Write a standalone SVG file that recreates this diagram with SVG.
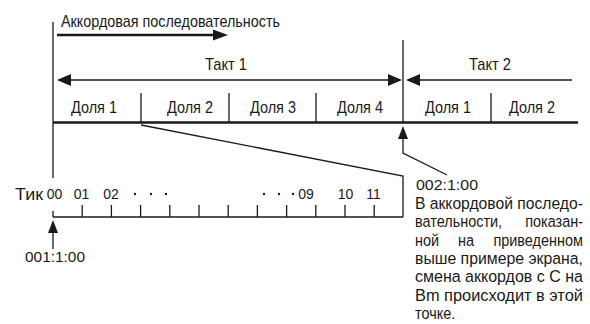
<svg xmlns="http://www.w3.org/2000/svg" width="590" height="324" viewBox="0 0 590 324">
<style>
.t{font-family:"Liberation Sans",Arial,sans-serif;font-size:17px;fill:#1a1a1a}
.n{font-family:"Liberation Sans",Arial,sans-serif;font-size:14px;fill:#1a1a1a}
.m{text-anchor:middle}
.e{text-anchor:end}
.l{stroke:#1a1a1a;stroke-width:1.3;fill:none}
.b{stroke:#1a1a1a;stroke-width:2.5;fill:none}
.h{fill:#1a1a1a;stroke:none}
</style>
<rect width="590" height="324" fill="#fff"/>
<g id="chord-sequence">
<text class="t" x="61" y="27" textLength="219" lengthAdjust="spacingAndGlyphs">Аккордовая последовательность</text>
</g>
<g id="measure1">
<text class="t m" x="226" y="70" textLength="42" lengthAdjust="spacingAndGlyphs">Такт 1</text>
</g>
<g id="measure2">
<text class="t m" x="490" y="70" textLength="42" lengthAdjust="spacingAndGlyphs">Такт 2</text>
</g>
<g id="beats">
<line class="l" x1="141" y1="93" x2="141" y2="122"/>
<line class="l" x1="229" y1="93" x2="229" y2="122"/>
<line class="l" x1="316" y1="93" x2="316" y2="122"/>
<line class="l" x1="491" y1="93" x2="491" y2="122"/>
<text class="t m" x="94" y="113" textLength="46" lengthAdjust="spacingAndGlyphs">Доля 1</text>
<text class="t m" x="190" y="113" textLength="46" lengthAdjust="spacingAndGlyphs">Доля 2</text>
<text class="t m" x="273" y="113" textLength="46" lengthAdjust="spacingAndGlyphs">Доля 3</text>
<text class="t m" x="360" y="113" textLength="46" lengthAdjust="spacingAndGlyphs">Доля 4</text>
<text class="t m" x="448" y="113" textLength="46" lengthAdjust="spacingAndGlyphs">Доля 1</text>
<text class="t m" x="532" y="113" textLength="46" lengthAdjust="spacingAndGlyphs">Доля 2</text>
<line class="b" x1="53" y1="122.5" x2="578" y2="122.5"/>
</g>
<g id="ticks">
<text class="t" x="15" y="200" textLength="28" lengthAdjust="spacingAndGlyphs">Тик</text>
<text class="n m" x="54.5" y="199">00</text>
<text class="n m" x="81.5" y="199">01</text>
<text class="n m" x="111" y="199">02</text>
<circle class="h" cx="135" cy="194" r="1.2"/>
<circle class="h" cx="151" cy="194" r="1.2"/>
<circle class="h" cx="166" cy="194" r="1.2"/>
<circle class="h" cx="264" cy="194" r="1.2"/>
<circle class="h" cx="279" cy="194" r="1.2"/>
<circle class="h" cx="293" cy="194" r="1.2"/>
<text class="n m" x="306" y="199">09</text>
<text class="n m" x="345.5" y="199">10</text>
<text class="n m" x="373.5" y="199">11</text>
<line class="l" x1="53" y1="217" x2="403" y2="217"/>
<path class="l" d="M53 211V217M82.2 205V217M111.4 205V217M140.6 205V217M169.8 205V217M199 205V217M228.2 205V217M257.4 205V217M286.6 205V217M315.8 205V217M345 205V217M374.2 205V217"/>
</g>
<g id="label-start">
<text class="n" x="25" y="262" textLength="60" lengthAdjust="spacingAndGlyphs">001:1:00</text>
</g>
<g id="label-change">
<text class="n" x="416" y="190" textLength="62" lengthAdjust="spacingAndGlyphs">002:1:00</text>
<g transform="matrix(0.85 0 0 1 62.25 0)">
<text class="t" x="415" y="209" textLength="197.6" lengthAdjust="spacingAndGlyphs">В аккордовой последо-</text>
<text class="t" x="415" y="227">вательности,</text>
<text class="t e" x="612.6" y="227">показан-</text>
<text class="t" x="415" y="246">ной</text>
<text class="t m" x="475" y="246">на</text>
<text class="t e" x="612.6" y="246">приведенном</text>
<text class="t" x="415" y="264" textLength="197.6" lengthAdjust="spacingAndGlyphs">выше примере экрана,</text>
<text class="t" x="415" y="282" textLength="197.6" lengthAdjust="spacingAndGlyphs">смена аккордов с С на</text>
<text class="t" x="415" y="301" textLength="197.6" lengthAdjust="spacingAndGlyphs">Bm происходит в этой</text>
<text class="t" x="415" y="319">точке.</text>
</g>
</g>
<g id="connectors">
<line class="l" x1="53" y1="22" x2="53" y2="178"/>
<line class="l" x1="403" y1="40" x2="403" y2="122"/>
<line class="b" x1="57" y1="35" x2="214" y2="35"/>
<polygon class="h" points="213,29.5 228,35 213,40.5"/>
<line class="l" x1="70" y1="80" x2="389" y2="80"/>
<polygon class="h" points="57,80 71,74 71,86"/>
<polygon class="h" points="402,80 388,74 388,86"/>
<line class="l" x1="419" y1="80" x2="572" y2="80"/>
<polygon class="h" points="406,80 420,74 420,86"/>
<polyline class="l" points="141,125 403,176 403,217"/>
<polygon class="h" points="403,126 398,139 408,139"/>
<polyline class="l" points="403,138 403,153 447,175"/>
<polygon class="h" points="53,220 48,233 58,233"/>
<line class="l" x1="53" y1="232" x2="53" y2="249"/>
</g>
</svg>
